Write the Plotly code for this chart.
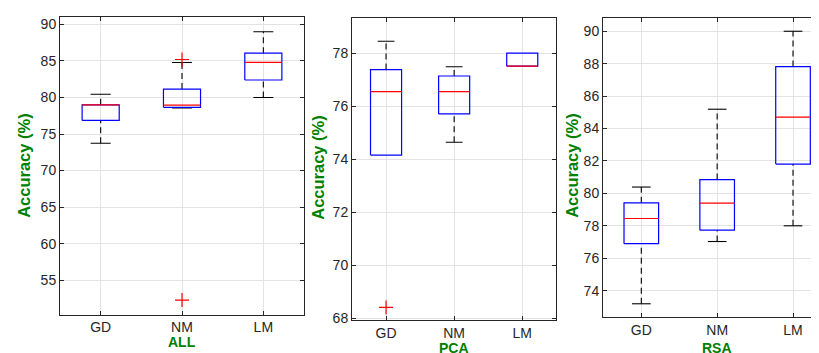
import plotly.graph_objects as go

categories = ["GD", "NM", "LM"]
positions = [1, 2, 3]

# ALL
all_q1 = [76.86, 78.66, 82.40]
all_med = [79.00, 78.97, 84.80]
all_q3 = [79.00, 81.15, 86.07]
all_lo = [73.74, 78.57, 80.00]
all_hi = [80.44, 84.80, 89.00]
all_out_cat = ["NM", "NM"]
all_out_val = [85.20, 52.28]

# PCA
pca_q1 = [74.16, 75.71, 77.51]
pca_med = [76.55, 76.55, 77.51]
pca_q3 = [77.38, 77.14, 78.00]
pca_lo = [74.16, 74.64, 77.51]
pca_hi = [78.45, 77.49, 78.00]
pca_out_cat = ["GD"]
pca_out_val = [68.42]

# RSA
rsa_q1 = [76.90, 77.73, 81.81]
rsa_med = [78.45, 79.40, 84.70]
rsa_q3 = [79.42, 80.85, 87.82]
rsa_lo = [73.19, 77.03, 78.00]
rsa_hi = [80.39, 85.19, 90.00]
rsa_out_cat = []
rsa_out_val = []

all_ticks = [55, 60, 65, 70, 75, 80, 85, 90]
pca_ticks = [68, 70, 72, 74, 76, 78]
rsa_ticks = [74, 76, 78, 80, 82, 84, 86, 88, 90]

BOX_HW = 0.228
CAP_HW = 0.123
FONT = "Liberation Sans, Arial, Helvetica, sans-serif"
GREEN = "#008000"
AXC = "#262626"

fig = go.Figure()


def add_panel(k, q1, med, q3, lo, hi, out_cat, out_val):
    xa = "x" if k == 1 else f"x{k}"
    ya = "y" if k == 1 else f"y{k}"
    wx, wy, cx, cy, bx, by, mx, my = [], [], [], [], [], [], [], []
    for p, a, m, b, l, h in zip(positions, q1, med, q3, lo, hi):
        if h > b:
            wx += [p, p, None]; wy += [b, h, None]
            cx += [p - CAP_HW, p + CAP_HW, None]; cy += [h, h, None]
        if l < a:
            wx += [p, p, None]; wy += [l, a, None]
            cx += [p - CAP_HW, p + CAP_HW, None]; cy += [l, l, None]
        bx += [p - BOX_HW, p + BOX_HW, p + BOX_HW, p - BOX_HW, p - BOX_HW, None]
        by += [a, a, b, b, a, None]
        mx += [p - BOX_HW, p + BOX_HW, None]; my += [m, m, None]
    common = dict(xaxis=xa, yaxis=ya, showlegend=False, hoverinfo="skip", mode="lines")
    fig.add_trace(go.Scatter(x=wx, y=wy, line=dict(color="#000000", width=1.1, dash="6px,4px"), **common))
    fig.add_trace(go.Scatter(x=cx, y=cy, line=dict(color="#000000", width=1.1), **common))
    fig.add_trace(go.Scatter(x=bx, y=by, line=dict(color="#0000ff", width=1.2), **common))
    fig.add_trace(go.Scatter(x=mx, y=my, line=dict(color="#ff0000", width=1.2), **common))
    if out_val:
        ox = [positions[categories.index(c)] for c in out_cat]
        fig.add_trace(go.Scatter(x=ox, y=out_val, mode="markers", xaxis=xa, yaxis=ya,
                                 showlegend=False, hoverinfo="skip",
                                 marker=dict(symbol="cross-thin", size=10,
                                             line=dict(color="#ff0000", width=1.2))))


add_panel(1, all_q1, all_med, all_q3, all_lo, all_hi, all_out_cat, all_out_val)
add_panel(2, pca_q1, pca_med, pca_q3, pca_lo, pca_hi, pca_out_cat, pca_out_val)
add_panel(3, rsa_q1, rsa_med, rsa_q3, rsa_lo, rsa_hi, rsa_out_cat, rsa_out_val)

W, H = 819, 353


def xax(domain, rng, anchor):
    return dict(domain=domain, range=rng, anchor=anchor, tickvals=positions, ticktext=categories,
                showline=True, linecolor=AXC, linewidth=1, mirror="ticks", ticks="inside",
                ticklen=4, tickcolor=AXC, showgrid=True, gridcolor="#e3e3e3", gridwidth=1,
                zeroline=False, tickfont=dict(family=FONT, size=14, color=AXC))


def yax(domain, rng, ticks, anchor, mirror=True):
    return dict(domain=domain, range=rng, anchor=anchor, tickvals=ticks,
                showline=True, linecolor=AXC, linewidth=1, mirror="ticks" if mirror else False,
                ticks="inside", ticklen=4, tickcolor=AXC, showgrid=True, gridcolor="#e3e3e3",
                gridwidth=1, zeroline=False, tickfont=dict(family=FONT, size=14, color=AXC))


fig.update_layout(
    width=W, height=H, margin=dict(l=0, r=0, t=0, b=0),
    paper_bgcolor="white", plot_bgcolor="white",
    xaxis=xax([52 / W, 296 / W], [0.5, 3.5], "y"),
    yaxis=yax([1 - 311.7 / H, 1 - 8.3 / H], [50.3, 91.0], all_ticks, "x"),
    xaxis2=xax([344 / W, 548.3 / W], [0.5, 3.5], "y2"),
    yaxis2=yax([1 - 317.7 / H, 1 - 9.3 / H], [67.93, 79.32], pca_ticks, "x2"),
    xaxis3=xax([595 / W, 1.0], [0.495, 3.448], "y3"),
    yaxis3=yax([1 - 314.3 / H, 1 - 9.3 / H], [72.37, 90.81], rsa_ticks, "x3", mirror=False),
)

ytitle_x = [16, 310, 564]
ytitle_y = [160, 162, 160]
for xp, yp in zip(ytitle_x, ytitle_y):
    fig.add_annotation(text="<b>Accuracy (%)</b>", xref="paper", yref="paper",
                       x=xp / W, y=1 - yp / H, xanchor="center", yanchor="middle",
                       textangle=-90, showarrow=False,
                       font=dict(family=FONT, size=16.5, color=GREEN))

xtitles = ["ALL", "PCA", "RSA"]
xtitle_y = [340, 345.5, 345.5]
for k, (t, yp) in enumerate(zip(xtitles, xtitle_y), start=1):
    fig.add_annotation(text=f"<b>{t}</b>", xref="x" if k == 1 else f"x{k}", yref="paper",
                       x=2, y=1 - yp / H, xanchor="center", yanchor="middle",
                       showarrow=False, font=dict(family=FONT, size=14, color=GREEN))

fig.write_html("out.html")
